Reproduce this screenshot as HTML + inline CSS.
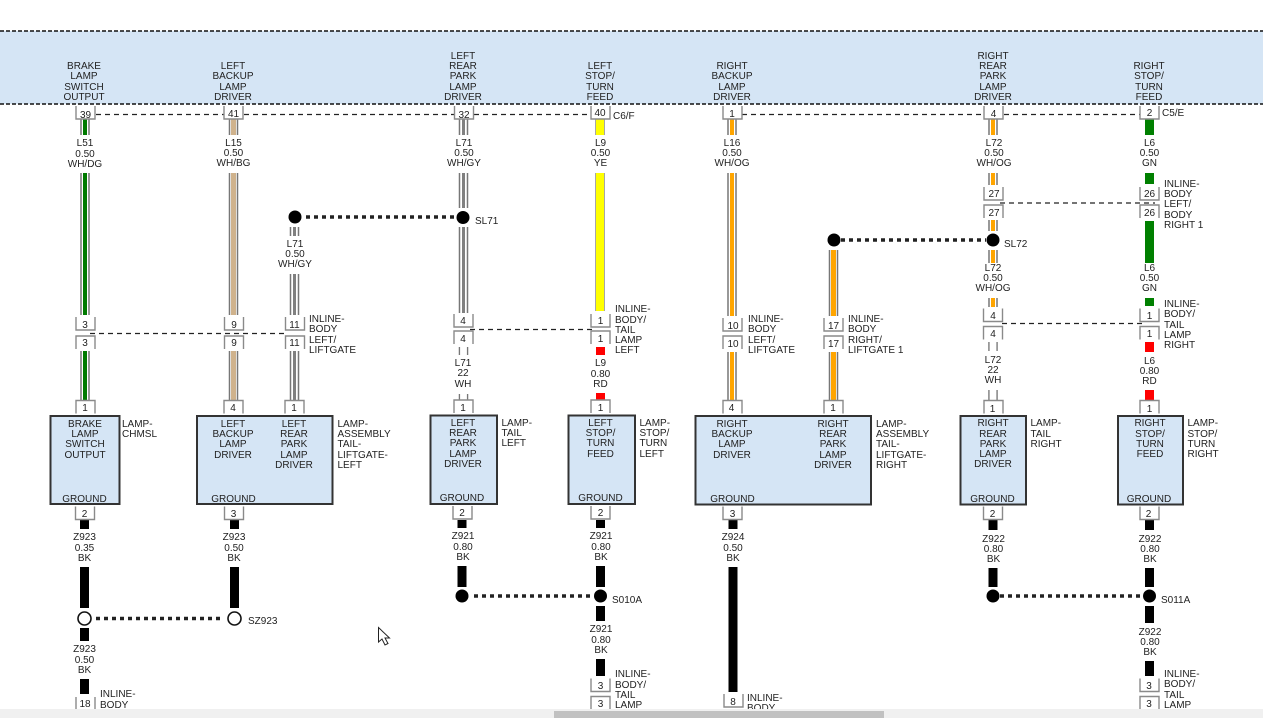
<!DOCTYPE html>
<html><head><meta charset="utf-8"><style>
html,body{margin:0;padding:0;background:#fff;width:1263px;height:718px;overflow:hidden}
svg{display:block;position:absolute;left:0;top:0}
text{font-family:"Liberation Sans",sans-serif;font-size:10px;fill:#222}
.c{text-anchor:middle}
.p{fill:#fff;stroke:#8a8a8a;stroke-width:1.4}
.d{fill:none;stroke:#222;stroke-width:1.3;stroke-dasharray:5 4}
.b{fill:none;stroke:#111;stroke-width:1.6;stroke-dasharray:4 2}
.t{fill:none;stroke:#222;stroke-width:3.5;stroke-dasharray:4 4}
.box{fill:#d5e5f5;stroke:#333;stroke-width:2}
</style></head><body>
<svg width="1263" height="718" viewBox="0 0 1263 718" xmlns="http://www.w3.org/2000/svg">
<defs>
<path id="a" d="M0,0V13H19V0"/>
<path id="b" d="M0,13V0H19V13"/>
</defs>
<rect x="0" y="31" width="1263" height="73" fill="#d5e5f5"/>
<path class="b" d="M0,31H1263M0,104H1263"/>

<!-- connector dashes -->
<path class="d" d="M96,114.500H224M244,114.500H454M474,114.500H591M742,114.500H984M1004,114.500H1140"/>
<path class="d" d="M90,333.500H286M470,329.500H596M1002,323.500H1143M1000,203H1155"/>

<!-- striped wires -->
<g fill="none">
<path stroke="#777" stroke-width="9.500" d="M85,119V135M85,173V315M85,351V400"/>
<path stroke="#fff" stroke-width="6.500" d="M85,119V135M85,173V315M85,351V400"/>
<path stroke="#007a00" stroke-width="4" d="M85,119V135M85,173V315M85,351V400"/>
<path stroke="#777" stroke-width="9.500" d="M233.500,119V135M233.500,173V315M233.500,351V400"/>
<path stroke="#fff" stroke-width="6.500" d="M233.500,119V135M233.500,173V315M233.500,351V400"/>
<path stroke="#cfb28c" stroke-width="5" d="M233.500,119V135M233.500,173V315M233.500,351V400"/>
<path stroke="#777" stroke-width="9.500" d="M294.500,227V236M294.500,274V315M294.500,351V400"/>
<path stroke="#fff" stroke-width="6.500" d="M294.500,227V236M294.500,274V315M294.500,351V400"/>
<path stroke="#808080" stroke-width="3" d="M294.500,227V236M294.500,274V315M294.500,351V400"/>
<path stroke="#777" stroke-width="9.500" d="M463.500,119V135M463.500,173V208M463.500,227V313"/>
<path stroke="#fff" stroke-width="6.500" d="M463.500,119V135M463.500,173V208M463.500,227V313"/>
<path stroke="#808080" stroke-width="3" d="M463.500,119V135M463.500,173V208M463.500,227V313"/>
<path stroke="#777" stroke-width="9.500" d="M732,119V135M732,173V316M732,352V400"/>
<path stroke="#fff" stroke-width="6.500" d="M732,119V135M732,173V316M732,352V400"/>
<path stroke="#ffa500" stroke-width="4" d="M732,119V135M732,173V316M732,352V400"/>
<path stroke="#777" stroke-width="9.500" d="M833.500,250V316M833.500,352V400"/>
<path stroke="#fff" stroke-width="6.500" d="M833.500,250V316M833.500,352V400"/>
<path stroke="#ffa500" stroke-width="5" d="M833.500,250V316M833.500,352V400"/>
<path stroke="#777" stroke-width="9.500" d="M993,119V135M993,173V185M993,220V231M993,250V263M993,298V307"/>
<path stroke="#fff" stroke-width="6.500" d="M993,119V135M993,173V185M993,220V231M993,250V263M993,298V307"/>
<path stroke="#ffa500" stroke-width="4" d="M993,119V135M993,173V185M993,220V231M993,250V263M993,298V307"/>
<!-- white wires -->
<path stroke="#777" stroke-width="9.500" d="M463.500,347V355M463.500,394V400M993,342V351M993,390V400"/>
<path stroke="#fff" stroke-width="6.800" d="M463.500,347V355M463.500,394V400M993,342V351M993,390V400"/>
<!-- solid -->
<path stroke="#888" stroke-width="9.500" d="M600,119V135M600,173V311"/>
<path stroke="#ff0" stroke-width="8" d="M600,119V135M600,173V311"/>
<path stroke="#f00" stroke-width="9" d="M600.500,347V355M600.500,393V400M1149.500,342V352M1149.500,390V400"/>
<path stroke="#008000" stroke-width="9" d="M1149.500,119V135M1149.500,173V184M1149.500,221V263M1149.500,298V306"/>
<path stroke="#000" stroke-width="9" d="M84.500,520V529M84.500,567V608M84.500,628V641M84.500,679V694M234.500,520V529M234.500,567V608M462,520V528M462,566V587M600.500,520V528M600.500,566V587M600.500,606V621M600.500,659V676M733,520V529M733,567V692M993,520V530M993,568V587M1149.500,520V530M1149.500,568V587M1149.500,606V623M1149.500,661V676"/>
</g>

<!-- dotted splices -->
<path class="t" d="M306,217H456M841,240H986M474,596H593M1000,596H1141M96,618.500H222"/>
<circle cx="295" cy="217" r="6.500"/><circle cx="463" cy="217.500" r="6.500"/><circle cx="834" cy="240" r="6.500"/><circle cx="993" cy="240" r="6.500"/>
<circle cx="462" cy="596" r="6.500"/><circle cx="600.500" cy="596" r="6.500"/><circle cx="993" cy="596" r="6.500"/><circle cx="1149.500" cy="596" r="6.500"/>
<circle cx="84.500" cy="618.500" r="6.500" fill="#fff" stroke="#111" stroke-width="1.600"/><circle cx="234.500" cy="618.500" r="6.500" fill="#fff" stroke="#111" stroke-width="1.600"/>

<!-- boxes -->
<rect class="box" x="50.500" y="416" width="69" height="88"/>
<rect class="box" x="197" y="416" width="135.500" height="88"/>
<rect class="box" x="430.500" y="415.500" width="66.500" height="88.500"/>
<rect class="box" x="568.500" y="415.500" width="66.500" height="88.500"/>
<rect class="box" x="695.500" y="416" width="175.500" height="88.500"/>
<rect class="box" x="960.500" y="416" width="65.500" height="88.500"/>
<rect class="box" x="1118" y="416" width="65" height="88.500"/>

<!-- pins -->
<g class="p">
<use href="#a" x="76" y="106"/><use href="#a" x="224" y="106"/><use href="#a" x="454.500" y="106"/><use href="#a" x="591" y="106"/><use href="#a" x="723" y="106"/><use href="#a" x="984" y="106"/><use href="#a" x="1140" y="106"/>
<use href="#a" x="76" y="317"/><use href="#b" x="76" y="336"/>
<use href="#a" x="224.500" y="317"/><use href="#b" x="224.500" y="336"/>
<use href="#a" x="285.500" y="317"/><use href="#b" x="285.500" y="336"/>
<use href="#a" x="454" y="314"/><use href="#b" x="454" y="331"/>
<use href="#a" x="591" y="314"/><use href="#b" x="591" y="331"/>
<use href="#a" x="723" y="318"/><use href="#b" x="723" y="336"/>
<use href="#a" x="824" y="318"/><use href="#b" x="824" y="336"/>
<use href="#a" x="984" y="187"/><use href="#b" x="984" y="205"/>
<use href="#a" x="1140" y="187"/><use href="#b" x="1140" y="205"/>
<use href="#a" x="983.500" y="308.500"/><use href="#b" x="983.500" y="326.500"/>
<use href="#a" x="1140" y="308.500"/><use href="#b" x="1140" y="326.500"/>
<use href="#b" x="76" y="400.500"/><use href="#b" x="224" y="400.500"/><use href="#b" x="285" y="400.500"/><use href="#b" x="454" y="400"/><use href="#b" x="591" y="400"/><use href="#b" x="723" y="400.500"/><use href="#b" x="824" y="400.500"/><use href="#b" x="984" y="400.500"/><use href="#b" x="1140" y="400.500"/>
<use href="#a" x="75.500" y="506.500"/><use href="#a" x="224.500" y="506.500"/><use href="#a" x="453" y="506"/><use href="#a" x="591" y="506"/><use href="#a" x="723" y="506.500"/><use href="#a" x="983.500" y="506.500"/><use href="#a" x="1140" y="506.500"/>
<use href="#a" x="76" y="697"/>
<use href="#a" x="591" y="678.500"/><use href="#b" x="591" y="696.500"/>
<use href="#a" x="724" y="694"/>
<use href="#a" x="1140" y="678.500"/><use href="#b" x="1140" y="696.500"/>
</g>

<g class="c">
<!-- header labels -->
<text x="84" y="69">BRAKE</text><text x="84" y="79">LAMP</text><text x="84" y="90">SWITCH</text><text x="84" y="100">OUTPUT</text>
<text x="233" y="69">LEFT</text><text x="233" y="79">BACKUP</text><text x="233" y="90">LAMP</text><text x="233" y="100">DRIVER</text>
<text x="463" y="59">LEFT</text><text x="463" y="69">REAR</text><text x="463" y="79">PARK</text><text x="463" y="90">LAMP</text><text x="463" y="100">DRIVER</text>
<text x="600" y="69">LEFT</text><text x="600" y="79">STOP/</text><text x="600" y="90">TURN</text><text x="600" y="100">FEED</text>
<text x="732" y="69">RIGHT</text><text x="732" y="79">BACKUP</text><text x="732" y="90">LAMP</text><text x="732" y="100">DRIVER</text>
<text x="993" y="59">RIGHT</text><text x="993" y="69">REAR</text><text x="993" y="79">PARK</text><text x="993" y="90">LAMP</text><text x="993" y="100">DRIVER</text>
<text x="1149" y="69">RIGHT</text><text x="1149" y="79">STOP/</text><text x="1149" y="90">TURN</text><text x="1149" y="100">FEED</text>

<!-- pin numbers -->
<text x="85.500" y="118">39</text><text x="233.500" y="117">41</text><text x="464" y="118">32</text><text x="600" y="116">40</text><text x="732" y="117">1</text><text x="993.500" y="117">4</text><text x="1149.500" y="116">2</text>
<text x="85" y="328">3</text><text x="85" y="346">3</text>
<text x="234" y="328">9</text><text x="234" y="346">9</text>
<text x="294.500" y="328">11</text><text x="294.500" y="346">11</text>
<text x="463" y="324">4</text><text x="463" y="342">4</text>
<text x="600.500" y="324">1</text><text x="600.500" y="342">1</text>
<text x="733" y="329">10</text><text x="733" y="347">10</text>
<text x="833.500" y="329">17</text><text x="833.500" y="347">17</text>
<text x="994" y="197">27</text><text x="994" y="216">27</text>
<text x="1149.500" y="197">26</text><text x="1149.500" y="216">26</text>
<text x="993" y="319">4</text><text x="993" y="337">4</text>
<text x="1149.500" y="319">1</text><text x="1149.500" y="337">1</text>
<text x="85" y="411">1</text><text x="233" y="411">4</text><text x="294" y="411">1</text><text x="463" y="411">1</text><text x="600.500" y="411">1</text><text x="731.500" y="411">4</text><text x="833" y="411">1</text><text x="992.500" y="412">1</text><text x="1149.500" y="412">1</text>
<text x="84.500" y="517">2</text><text x="233.500" y="517">3</text><text x="462" y="516">2</text><text x="600.500" y="516">2</text><text x="732.500" y="517">3</text><text x="992.500" y="517">2</text><text x="1148.500" y="517">2</text>
<text x="85" y="707">18</text><text x="600.500" y="689">3</text><text x="600.500" y="707">3</text><text x="733" y="705">8</text><text x="1149" y="689">3</text><text x="1149" y="707">3</text>

<!-- wire labels -->
<text x="85" y="146">L51</text><text x="85" y="157">0.50</text><text x="85" y="167">WH/DG</text>
<text x="233.500" y="146">L15</text><text x="233.500" y="156">0.50</text><text x="233.500" y="166">WH/BG</text>
<text x="295" y="247">L71</text><text x="295" y="257">0.50</text><text x="295" y="267">WH/GY</text>
<text x="464" y="146">L71</text><text x="464" y="156">0.50</text><text x="464" y="166">WH/GY</text>
<text x="600.500" y="146">L9</text><text x="600.500" y="156">0.50</text><text x="600.500" y="166">YE</text>
<text x="732" y="146">L16</text><text x="732" y="156">0.50</text><text x="732" y="166">WH/OG</text>
<text x="994" y="146">L72</text><text x="994" y="156">0.50</text><text x="994" y="166">WH/OG</text>
<text x="1149.500" y="146">L6</text><text x="1149.500" y="156">0.50</text><text x="1149.500" y="166">GN</text>
<text x="993" y="271">L72</text><text x="993" y="281">0.50</text><text x="993" y="291">WH/OG</text>
<text x="1149.500" y="271">L6</text><text x="1149.500" y="281">0.50</text><text x="1149.500" y="291">GN</text>
<text x="463" y="366">L71</text><text x="463" y="376">22</text><text x="463" y="387">WH</text>
<text x="600.500" y="366">L9</text><text x="600.500" y="377">0.80</text><text x="600.500" y="387">RD</text>
<text x="993" y="363">L72</text><text x="993" y="373">22</text><text x="993" y="383">WH</text>
<text x="1149.500" y="364">L6</text><text x="1149.500" y="374">0.80</text><text x="1149.500" y="384">RD</text>
<text x="84.500" y="540">Z923</text><text x="84.500" y="551">0.35</text><text x="84.500" y="561">BK</text>
<text x="234" y="540">Z923</text><text x="234" y="551">0.50</text><text x="234" y="561">BK</text>
<text x="84.500" y="652">Z923</text><text x="84.500" y="663">0.50</text><text x="84.500" y="673">BK</text>
<text x="463" y="539">Z921</text><text x="463" y="550">0.80</text><text x="463" y="560">BK</text>
<text x="601" y="539">Z921</text><text x="601" y="550">0.80</text><text x="601" y="560">BK</text>
<text x="601" y="632">Z921</text><text x="601" y="643">0.80</text><text x="601" y="653">BK</text>
<text x="733" y="540">Z924</text><text x="733" y="551">0.50</text><text x="733" y="561">BK</text>
<text x="993.500" y="542">Z922</text><text x="993.500" y="552">0.80</text><text x="993.500" y="562">BK</text>
<text x="1150" y="542">Z922</text><text x="1150" y="552">0.80</text><text x="1150" y="562">BK</text>
<text x="1150" y="635">Z922</text><text x="1150" y="645">0.80</text><text x="1150" y="655">BK</text>

<!-- box labels -->
<text x="85" y="427">BRAKE</text><text x="85" y="437">LAMP</text><text x="85" y="447">SWITCH</text><text x="85" y="458">OUTPUT</text><text x="84.500" y="502">GROUND</text>
<text x="233" y="427">LEFT</text><text x="233" y="437">BACKUP</text><text x="233" y="447">LAMP</text><text x="233" y="458">DRIVER</text><text x="233.500" y="502">GROUND</text>
<text x="294" y="427">LEFT</text><text x="294" y="437">REAR</text><text x="294" y="447">PARK</text><text x="294" y="458">LAMP</text><text x="294" y="468">DRIVER</text>
<text x="463" y="426">LEFT</text><text x="463" y="436">REAR</text><text x="463" y="446">PARK</text><text x="463" y="457">LAMP</text><text x="463" y="467">DRIVER</text><text x="462" y="501">GROUND</text>
<text x="600.500" y="426">LEFT</text><text x="600.500" y="436">STOP/</text><text x="600.500" y="446">TURN</text><text x="600.500" y="457">FEED</text><text x="600.500" y="501">GROUND</text>
<text x="732" y="427">RIGHT</text><text x="732" y="437">BACKUP</text><text x="732" y="447">LAMP</text><text x="732" y="458">DRIVER</text><text x="732.500" y="502">GROUND</text>
<text x="833" y="427">RIGHT</text><text x="833" y="437">REAR</text><text x="833" y="447">PARK</text><text x="833" y="458">LAMP</text><text x="833" y="468">DRIVER</text>
<text x="993" y="426">RIGHT</text><text x="993" y="437">REAR</text><text x="993" y="447">PARK</text><text x="993" y="457">LAMP</text><text x="993" y="467">DRIVER</text><text x="992.500" y="502">GROUND</text>
<text x="1150" y="426">RIGHT</text><text x="1150" y="437">STOP/</text><text x="1150" y="447">TURN</text><text x="1150" y="457">FEED</text><text x="1149" y="502">GROUND</text>
</g>

<!-- left-aligned labels -->
<text x="122" y="427">LAMP-</text><text x="122" y="437">CHMSL</text>
<text x="337.500" y="427">LAMP-</text><text x="337.500" y="437">ASSEMBLY</text><text x="337.500" y="447">TAIL-</text><text x="337.500" y="458">LIFTGATE-</text><text x="337.500" y="468">LEFT</text>
<text x="501.500" y="426">LAMP-</text><text x="501.500" y="436">TAIL</text><text x="501.500" y="446">LEFT</text>
<text x="639.500" y="426">LAMP-</text><text x="639.500" y="436">STOP/</text><text x="639.500" y="446">TURN</text><text x="639.500" y="457">LEFT</text>
<text x="876" y="427">LAMP-</text><text x="876" y="437">ASSEMBLY</text><text x="876" y="447">TAIL-</text><text x="876" y="458">LIFTGATE-</text><text x="876" y="468">RIGHT</text>
<text x="1030.500" y="426">LAMP-</text><text x="1030.500" y="437">TAIL</text><text x="1030.500" y="447">RIGHT</text>
<text x="1187.500" y="426">LAMP-</text><text x="1187.500" y="437">STOP/</text><text x="1187.500" y="447">TURN</text><text x="1187.500" y="457">RIGHT</text>

<text x="309" y="322">INLINE-</text><text x="309" y="332">BODY</text><text x="309" y="343">LEFT/</text><text x="309" y="353">LIFTGATE</text>
<text x="615" y="312">INLINE-</text><text x="615" y="323">BODY/</text><text x="615" y="333">TAIL</text><text x="615" y="343">LAMP</text><text x="615" y="353">LEFT</text>
<text x="748" y="322">INLINE-</text><text x="748" y="332">BODY</text><text x="748" y="343">LEFT/</text><text x="748" y="353">LIFTGATE</text>
<text x="848" y="322">INLINE-</text><text x="848" y="332">BODY</text><text x="848" y="343">RIGHT/</text><text x="848" y="353">LIFTGATE 1</text>
<text x="1164" y="187">INLINE-</text><text x="1164" y="197">BODY</text><text x="1164" y="207">LEFT/</text><text x="1164" y="218">BODY</text><text x="1164" y="228">RIGHT 1</text>
<text x="1164" y="307">INLINE-</text><text x="1164" y="317">BODY/</text><text x="1164" y="328">TAIL</text><text x="1164" y="338">LAMP</text><text x="1164" y="348">RIGHT</text>
<text x="100" y="697">INLINE-</text><text x="100" y="708">BODY</text>
<text x="615" y="677">INLINE-</text><text x="615" y="688">BODY/</text><text x="615" y="698">TAIL</text><text x="615" y="708">LAMP</text>
<text x="747" y="701">INLINE-</text><text x="747" y="711">BODY</text>
<text x="1164" y="677">INLINE-</text><text x="1164" y="687">BODY/</text><text x="1164" y="698">TAIL</text><text x="1164" y="708">LAMP</text>

<text x="613" y="119">C6/F</text><text x="1162" y="116">C5/E</text>
<text x="475" y="224">SL71</text><text x="1004" y="247">SL72</text>
<text x="248" y="624">SZ923</text><text x="612" y="603">S010A</text><text x="1161" y="603">S011A</text>

<!-- cursor -->
<path d="M378.500,627.500V642L382,639L385,645L388,643.500L385,638H389.500Z" fill="#fff" stroke="#222" stroke-width="1"/>

<!-- scrollbar -->
<rect x="0" y="709" width="1263" height="9" fill="#f0f0f0"/>
<rect x="554" y="711" width="330" height="7" fill="#c1c1c1"/>
</svg>
</body></html>
